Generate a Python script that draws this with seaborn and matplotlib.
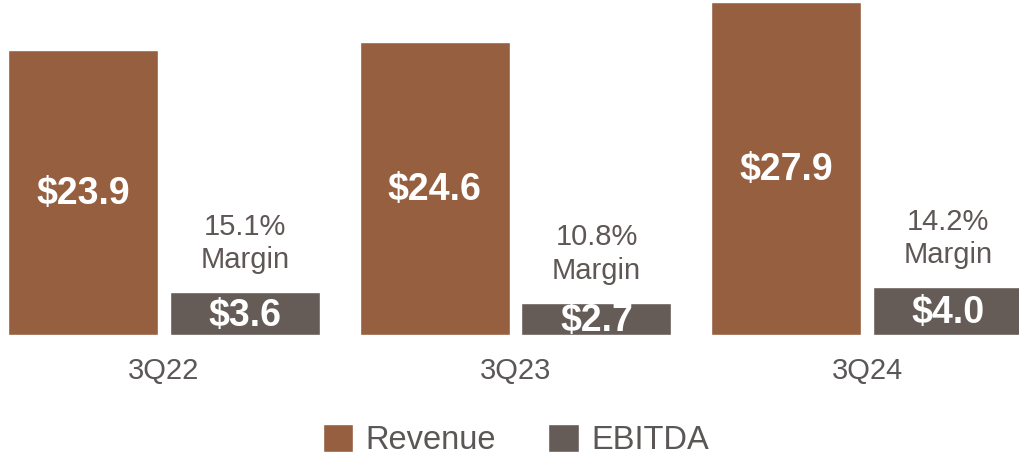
import matplotlib
matplotlib.use("Agg")
import matplotlib.pyplot as plt
import seaborn as sns
import pandas as pd

quarters = ["3Q22", "3Q23", "3Q24"]
revenue = [23.9, 24.6, 27.9]
ebitda = [3.6, 2.7, 4.0]
margins = ["15.1%", "10.8%", "14.2%"]
series_names = ["Revenue", "EBITDA"]
colors = ["#965F3F", "#655C58"]

sns.set_theme(style="white")
plt.rcParams["font.family"] = ["Liberation Sans", "DejaVu Sans"]

df = pd.DataFrame({
    "Quarter": quarters * 2,
    "Series": [series_names[0]] * 3 + [series_names[1]] * 3,
    "Value": revenue + ebitda,
})

fig = plt.figure(figsize=(10.2, 4.59), dpi=100)
ax = fig.add_axes([0, 124 / 459, 1, 335 / 459])

sns.barplot(data=df, x="Quarter", y="Value", hue="Series", order=quarters,
            hue_order=series_names, palette=colors, width=0.92, gap=0.072,
            saturation=1, ax=ax, legend=True)

ax.set_xlim(-0.4666, 2.435)
ax.set_ylim(0, 28.08)
ax.set_xlabel("")
ax.set_ylabel("")
ax.set_yticks([])
for s in ax.spines.values():
    s.set_visible(False)
ax.tick_params(axis="x", length=0, pad=16, labelsize=21, labelcolor="#5A5756")

off = 0.2304
for i, q in enumerate(quarters):
    ax.annotate(f"${revenue[i]:.1f}", (i - off, revenue[i] / 2), xytext=(0, -1),
                textcoords="offset points", ha="center", va="center",
                color="white", fontsize=27, fontweight="bold")
    ax.annotate(f"${ebitda[i]:.1f}", (i + off, ebitda[i] / 2), xytext=(0, -1.5),
                textcoords="offset points", ha="center", va="center",
                color="white", fontsize=27, fontweight="bold")
    ax.annotate(f"{margins[i]}\nMargin", (i + off, ebitda[i]), xytext=(0, 17.3),
                textcoords="offset points", ha="center", va="baseline",
                color="#5E5755", fontsize=21, linespacing=1.25)

leg = ax.legend(loc="center", bbox_to_anchor=(516 / 1020, 19 / 459),
                bbox_transform=fig.transFigure, ncol=2, frameon=False,
                fontsize=23.5, handlelength=0.92, handleheight=0.92,
                handletextpad=0.4, columnspacing=1.6)
for t in leg.get_texts():
    t.set_color("#5A5756")

fig.savefig("out.png", dpi=100)
